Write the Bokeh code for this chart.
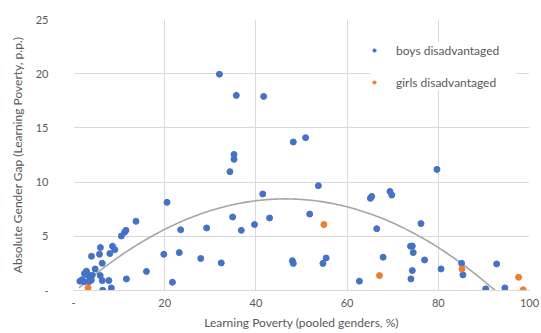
import numpy as np
from bokeh.plotting import figure
from bokeh.models import FixedTicker, Legend, LegendItem
from bokeh.embed import file_html
from bokeh.resources import INLINE

# Learning Poverty (pooled genders, %) and absolute gender gap (p.p.)
boys_x = [1.4, 1.9, 2.3, 2.4, 2.85, 3.1, 3.35, 3.6, 3.9, 4.1, 3.95, 4.75, 5.7, 5.9, 5.85,
          6.3, 6.3, 6.4, 7.75, 7.96, 8.3, 8.55, 9.06, 10.5, 11.2, 11.5, 11.6, 13.7, 16.0,
          19.8, 20.5, 21.7, 23.2, 23.5, 27.9, 29.2, 32.0, 32.4, 34.3, 34.9, 35.2, 35.2,
          35.7, 36.8, 39.7, 41.5, 41.7, 43.0, 48.0, 48.2, 48.2, 50.9, 51.8, 53.7, 54.7,
          55.4, 62.7, 65.1, 65.4, 66.5, 67.9, 69.4, 69.8, 73.9, 74.0, 74.3, 74.3, 74.5,
          76.2, 77.0, 79.7, 80.6, 85.1, 85.4, 90.4, 92.8, 94.6]
boys_y = [0.86, 1.0, 0.8, 1.56, 1.78, 1.41, 0.8, 1.25, 0.95, 1.41, 3.16, 1.99, 3.34, 3.96, 1.38,
          2.51, 0.92, 0.03, 0.92, 3.41, 0.24, 4.08, 3.77, 5.03, 5.37, 5.55, 1.07, 6.38, 1.76,
          3.34, 8.13, 0.76, 3.5, 5.6, 2.95, 5.77, 19.95, 2.54, 10.96, 6.78, 12.1, 12.55,
          18.0, 5.55, 6.08, 8.9, 17.9, 6.69, 2.75, 2.5, 13.7, 14.1, 7.05, 9.67, 2.5,
          3.0, 0.86, 8.5, 8.68, 5.7, 3.07, 9.14, 8.8, 4.08, 1.07, 4.1, 1.84, 3.5,
          6.17, 2.82, 11.17, 1.99, 2.51, 1.44, 0.15, 2.45, 0.24]
girls_x = [3.2, 54.9, 67.1, 85.2, 97.6, 98.6]
girls_y = [0.24, 6.08, 1.38, 1.99, 1.22, 0.06]

x_ticks = [0, 20, 40, 60, 80, 100]
y_ticks = [0, 5, 10, 15, 20, 25]

# order-2 polynomial trendline, coefficients (a, b, c)
trend_coef = [-0.0040, 0.372, -0.20]
trend_x_start = 1.2
trend_x_end = 100.0
tx = np.linspace(trend_x_start, trend_x_end, 300)
ty = np.polyval(trend_coef, tx)

FONT = "Lato"
GRAY_TXT = "#595959"

p = figure(width=541, height=333, x_range=(0, 100), y_range=(0, 25),
           output_backend="svg", toolbar_location=None,
           min_border_left=73, min_border_right=12, min_border_top=19, min_border_bottom=43)
p.outline_line_color = None
p.background_fill_color = "white"
p.border_fill_color = "white"

for ax in (p.xaxis[0], p.yaxis[0]):
    ax.major_tick_line_color = None
    ax.minor_tick_line_color = None
    ax.major_tick_out = 0
    ax.major_tick_in = 0
    ax.minor_tick_out = 0
    ax.minor_tick_in = 0
    ax.major_label_text_font = FONT
    ax.major_label_text_font_size = "11px"
    ax.major_label_text_color = GRAY_TXT
    ax.axis_label_text_font = FONT
    ax.axis_label_text_font_size = "12px"
    ax.axis_label_text_font_style = "normal"
    ax.axis_label_text_color = GRAY_TXT
    ax.major_label_overrides = {0: "-"}

p.xaxis.ticker = FixedTicker(ticks=x_ticks)
p.yaxis.ticker = FixedTicker(ticks=y_ticks)
p.xaxis.axis_label = "Learning Poverty (pooled genders, %)"
p.yaxis.axis_label = "Absolute Gender Gap (Learning Poverty, p.p.)"
p.xaxis.axis_line_color = "#d9d9d9"
p.yaxis.axis_line_color = None
p.xaxis.major_label_standoff = 8
p.xaxis.axis_label_standoff = 5
p.yaxis.major_label_standoff = 25
p.yaxis.axis_label_standoff = 8

p.xgrid.grid_line_color = "#d9d9d9"
p.ygrid.grid_line_color = "#d9d9d9"

p.line(tx, ty, line_color="#a6a6a6", line_width=1.6)
rb = p.scatter(boys_x, boys_y, size=6, color="#4472C4")
rg = p.scatter(girls_x, girls_y, size=6, color="#ED7D31")

legend = Legend(items=[LegendItem(label="boys disadvantaged", renderers=[rb]),
                       LegendItem(label="girls disadvantaged", renderers=[rg])],
                location=(297, 200))
legend.border_line_color = None
legend.background_fill_color = "white"
legend.background_fill_alpha = 1.0
legend.label_text_font = FONT
legend.label_text_font_size = "12px"
legend.label_text_color = GRAY_TXT
legend.glyph_width = 8
legend.glyph_height = 16
legend.label_height = 16
legend.label_standoff = 18
legend.label_width = 120
legend.spacing = 16
legend.padding = 2
legend.margin = 0
p.add_layout(legend)

open("out.html", "w").write(file_html(p, INLINE))
